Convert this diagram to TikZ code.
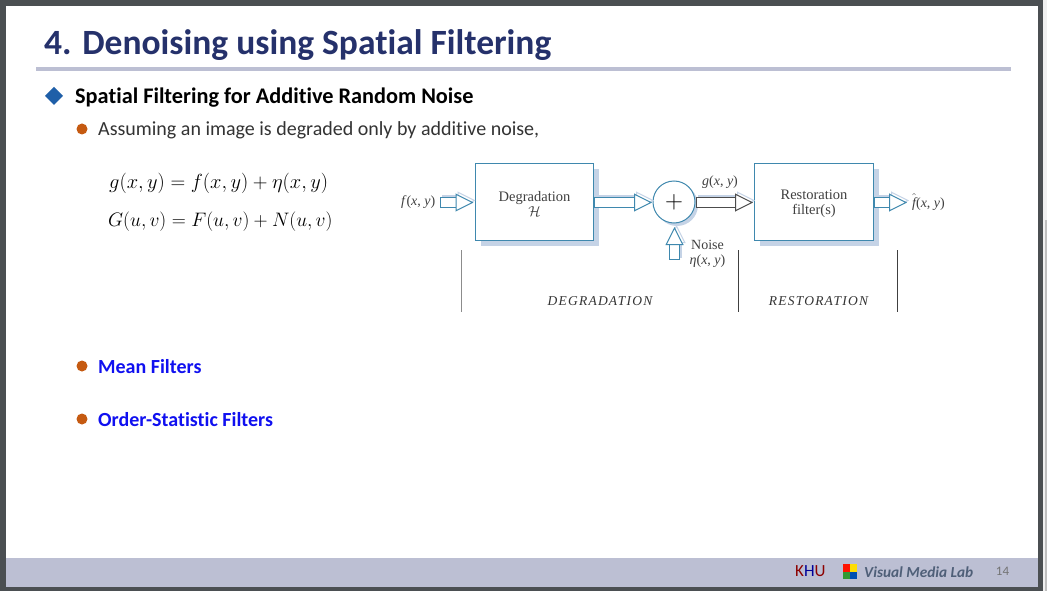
\documentclass[tikz,border=0pt]{standalone}
\usepackage{amsmath}
\usepackage{fontspec}
\setmainfont[Ligatures=NoCommon]{Carlito}
\newfontfamily\bookfont{Liberation Serif}
\newfontfamily\capsfont[LetterSpace=9]{Liberation Serif}
\usetikzlibrary{calc,shadows,arrows.meta}

\definecolor{framegray}{HTML}{4B4F52}
\definecolor{barblue}{HTML}{BCBFD3}
\definecolor{titleblue}{HTML}{25316B}
\definecolor{diamondblue}{HTML}{1F5FA8}
\definecolor{dotorange}{HTML}{C55A11}
\definecolor{linkblue}{HTML}{1010F0}
\definecolor{boxline}{HTML}{3F88AE}
\definecolor{boxshade}{HTML}{C5D3E6}
\definecolor{labgray}{HTML}{4F5F78}

\newcommand{\signaltext}[3]{#1(\textit{#2}, \textit{#3})}

\tikzset{
  blockbox/.style={draw=boxline, fill=white, line width=1pt, minimum width=118.5pt, minimum height=77.5pt,
    drop shadow={shadow xshift=5.5pt, shadow yshift=-5.5pt, fill=boxshade, opacity=1}},
  blocktext/.style={inner sep=0pt, align=center, font=\bookfont\fontsize{14.5}{15}\selectfont, text=black!75},
  sumcircle/.style={circle, draw=boxline, fill=white, line width=1pt, minimum size=42pt, inner sep=0pt,
    drop shadow={shadow xshift=3pt, shadow yshift=-3pt, fill=boxshade, opacity=1}},
  hollowarrow/.style={draw=#1, line width=1pt, double=white, double distance=9pt,
    {Bar[width=11pt, line width=1pt]}-{Triangle[open, fill=white, length=18pt, width=18pt]},
    preaction={draw=boxshade, double=boxshade, transform canvas={xshift=2pt, yshift=2pt}}},
  hollowarrow/.default=boxline,
  signal/.style={font=\bookfont\fontsize{14}{15}\selectfont, text=black!75},
  capslabel/.style={font=\capsfont\itshape\fontsize{13.5}{15}\selectfont, text=black!80},
  bodytext/.style={anchor=west, font=\fontsize{20}{23}\selectfont},
  bullet/.style={fill=dotorange}
}

\begin{document}
\begin{tikzpicture}[x=1pt, y=-1pt]
  \useasboundingbox (0,0) rectangle (1047,591);

  % slide frame
  \fill[white!94!black] (0,0) rectangle (1047,591);
  \fill[framegray] (0,0) rectangle (1043,591);
  \fill[white] (6,6) rectangle (1038,587);
  \fill[barblue] (6,558) rectangle (1038,587);
  \fill[black!25] (1045,220) rectangle (1047,591);

  % heading
  \node[anchor=west, inner sep=0pt, font=\bfseries\fontsize{35.5}{40}\selectfont, text=titleblue] (title) at (44,45) {4. Denoising using Spatial Filtering};
  \fill[barblue] (36,67) rectangle (1011,71);

  % bullets
  \fill[diamondblue] (45,96)--(54,87)--(63,96)--(54,105)--cycle;
  \fill[bullet] (82,129) circle (5.5);
  \fill[bullet] (82,366) circle (5.5);
  \fill[bullet] (82,419) circle (5.5);

  \node[bodytext, inner sep=0pt, font=\bfseries\fontsize{22.3}{25}\selectfont] (head) at (75,98) {Spatial Filtering for Additive Random Noise};
  \node[bodytext, inner sep=0pt, text=black!80] (assume) at (98,130) {Assuming an image is degraded only by additive noise,};
  \node[bodytext, inner sep=0pt, text=linkblue, font=\bfseries\fontsize{20}{23}\selectfont] (mean) at (98,367) {Mean Filters};
  \node[bodytext, inner sep=0pt, text=linkblue, font=\bfseries\fontsize{20}{23}\selectfont] (order) at (98,420) {Order-Statistic Filters};

  % equations
  \node[anchor=west, inner sep=0pt, scale=0.986, font=\fontsize{22}{26}\selectfont] (eqg) at (109,183) {$g(x,y)=f(x,y)+\eta(x,y)$};
  \node[anchor=west, inner sep=0pt, scale=0.94, font=\fontsize{22}{26}\selectfont] (eqbig) at (108,222) {$G(u,v)=F(u,v)+N(u,v)$};

  % blocks
  \node[blockbox] (deg) at (534.5,202) {};
  \node[sumcircle, font=\fontsize{24}{24}\selectfont] (plus) at (674,202) {$+$};
  \node[blockbox] (rest) at (814,202) {};
  \node[blocktext] (deglabel) at ($(deg)+(0,1.5)$) {Degradation\\$\mathcal{H}$};
  \node[blocktext] (restlabel) at ($(rest)+(0,1.5)$) {Restoration\\filter(s)};

  \node[signal, anchor=east, inner sep=0pt] (fin) at (435.5,202) {\signaltext{\textit{f}}{x}{y}};
  \node[signal, anchor=west, inner sep=0pt] (fout) at (912,202) {\signaltext{$\hat{\text{\itshape f}}$}{x}{y}};
  \node[signal, inner sep=0pt] (gout) at (720,182) {\signaltext{\textit{g}}{x}{y}};
  \node[signal, inner sep=0pt, align=center] (noise) at (707.5,253.5) {Noise\\\signaltext{\textit{η}}{x}{y}};

  \coordinate (finstart) at (440,202.5);
  \coordinate (degin) at (473.5,202.5);
  \coordinate (plusin) at (652,202.5);
  \coordinate (plusout) at (696,202.5);
  \coordinate (restin) at (753,202.5);
  \coordinate (foutend) at (907,202.5);
  \coordinate (noisestart) at (674.5,259.5);
  \coordinate (noiseend) at (674.5,227);

  \draw[hollowarrow] (finstart)--(degin);
  \draw[hollowarrow] (deg.east|-plusin)--(plusin);
  \draw[hollowarrow=black!70] (plusout)--(restin);
  \draw[hollowarrow] (rest.east|-foutend)--(foutend);
  \draw[hollowarrow] (noisestart)--(noiseend);

  % stage marks
  \draw[black!45, line width=0.8pt] (461,250)--(461,312);
  \draw[black!75, line width=0.8pt] (738.5,250)--(738.5,312);
  \draw[black!75, line width=0.8pt] (897.5,250)--(897.5,312);
  \node[capslabel] (stagedeg) at (600,301) {DEGRADATION};
  \node[capslabel] (stagerest) at (818.5,301) {RESTORATION};

  % footer
  \node[anchor=west, inner sep=0pt, font=\fontsize{17}{18}\selectfont] (khu) at (795,571.5)
    {\textcolor{red!55!black}{K}\textcolor{blue!60!black}{H}\textcolor{red!55!black}{U}};
  \fill[red!85!orange] (843,564) rectangle (850,571.5);
  \fill[yellow!80!orange] (850,564) rectangle (857,571.5);
  \fill[green!50!black!80] (843,571.5) rectangle (850,579);
  \fill[blue!55!cyan!70!black] (850,571.5) rectangle (857,579);
  \node[anchor=west, inner sep=0pt, text=labgray, font=\bfseries\itshape\fontsize{15.3}{18}\selectfont] (lab) at (864,572) {Visual Media Lab};
  \node[inner sep=0pt, text=black!55, font=\fontsize{13}{15}\selectfont] (page) at (1002.5,571.5) {14};
\end{tikzpicture}
\end{document}
